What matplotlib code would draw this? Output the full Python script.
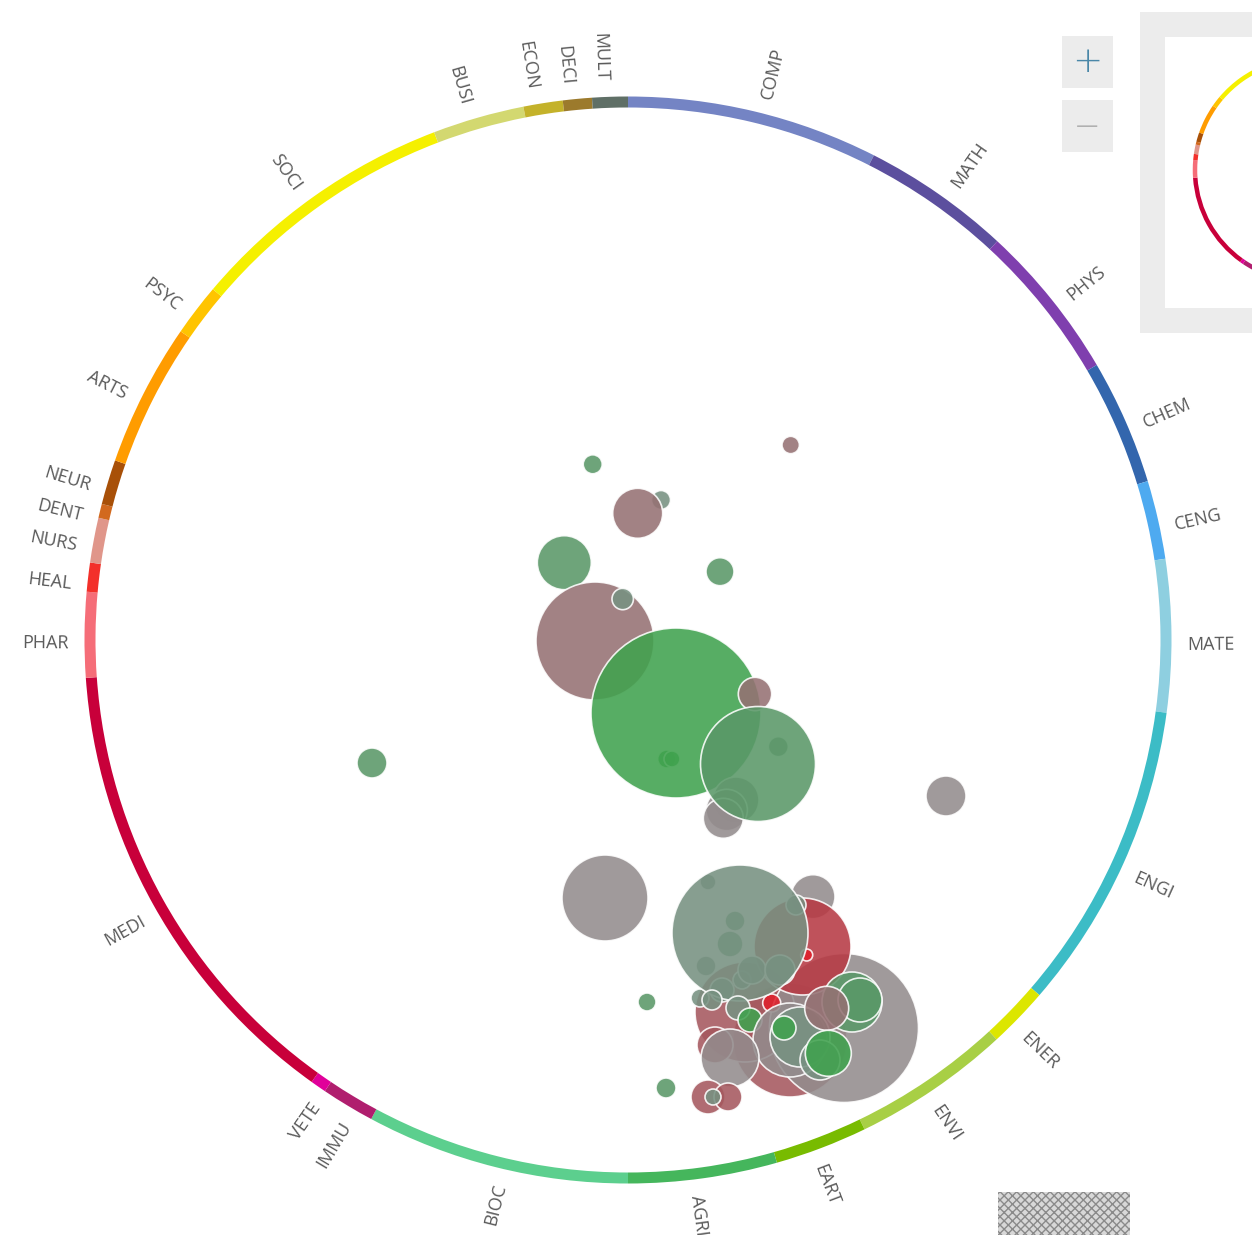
import matplotlib
matplotlib.use('Agg')
import matplotlib.pyplot as plt
from matplotlib.patches import Wedge, Circle, Rectangle
import numpy as np

# subject areas around the ring, clockwise from the top
subjects = ['COMP', 'MATH', 'PHYS', 'CHEM', 'CENG', 'MATE', 'ENGI', 'ENER',
            'ENVI', 'EART', 'AGRI', 'BIOC', 'IMMU', 'VETE', 'MEDI', 'PHAR',
            'HEAL', 'NURS', 'DENT', 'NEUR', 'ARTS', 'PSYC', 'SOCI', 'BUSI',
            'ECON', 'DECI', 'MULT']
# arc length of each subject (degrees)
spans = [26.9, 15.9, 16.8, 13.4, 8.4, 16.3, 33.1, 6.5,
         16.9, 9.9, 15.9, 28.2, 5.7, 1.7, 50.4, 9.1,
         3.1, 4.8, 1.5, 4.8, 15.3, 5.6, 28.9, 9.8,
         4.2, 3.1, 3.8]
subject_colors = ['#7484c4', '#5c4f9e', '#7f3fae', '#3366ad', '#4eaaf0', '#8ecfe0',
                  '#3cbcc6', '#dce600', '#a8cf45', '#78bb00', '#45b65c', '#5ccf8e',
                  '#b01e6e', '#e0009a', '#c8003a', '#f56d78', '#f3302a', '#e0968a',
                  '#d2691e', '#a85008', '#ff9c00', '#ffc400', '#f5f000', '#d3d870',
                  '#c4b22a', '#9c7a2c', '#5f6f66']

# bubbles (position in chart pixels, radius, colour group), back to front
bub_x = [592.7, 790.7, 661, 637.7, 564.3, 720, 595, 622.7,
         666.7, 672, 676, 755, 778.3, 736, 726.7, 723.3, 758,
         372, 946, 605, 647, 666,
         790, 745, 844, 813, 802.5,
         708, 735, 730, 706, 742, 796, 722, 752, 780, 700,
         806.7, 771.7, 740,
         738, 712, 750, 790, 800, 784, 852, 860, 826.7, 820, 828.3,
         715, 730, 708, 728, 713]
bub_y = [464.3, 445, 500, 513.3, 562.7, 571.7, 641, 599,
         759, 759, 713, 694, 746.7, 800, 810, 818.3, 764,
         763, 796, 898, 1002, 1088,
         1040, 1012, 1028, 896.7, 946.5,
         882, 921, 944, 966, 980, 905, 990, 970, 970, 998,
         955, 1003, 933,
         1008, 1000, 1020, 1040, 1037, 1028, 1002, 1000, 1008.3, 1060, 1053.3,
         1045, 1058, 1097, 1097, 1097]
bub_r = [9.5, 8.7, 9.5, 25, 27, 14, 59, 10.7,
         9, 8, 85, 16.7, 10, 23, 20.7, 20, 57.5,
         15, 20, 43, 9, 10,
         57, 50, 74.5, 22, 48.5,
         8, 10, 13, 10, 9, 10, 12, 14, 15, 9,
         6, 9, 68,
         12, 10, 12, 37, 30, 12, 30, 22, 22, 20, 23,
         18, 29, 17, 14, 8]
bub_kind = ['M', 'P', 'T', 'P', 'M', 'M', 'P', 'T',
            'G', 'G', 'G', 'P', 'T', 'Y', 'Y', 'Y', 'M',
            'M', 'Y', 'Y', 'M', 'M',
            'RM', 'RM', 'Y', 'Y', 'R',
            'T', 'M', 'M', 'T', 'T', 'T', 'T', 'T', 'T', 'T',
            'B', 'B', 'T',
            'T', 'T', 'G', 'Y', 'T', 'G', 'M', 'M', 'P', 'T', 'G',
            'RM', 'Y', 'RM', 'RM', 'T']
kind_colors = {'G': '#40a24e', 'M': '#5a9868', 'P': '#957173', 'Y': '#938c8d',
               'T': '#779181', 'R': '#b73a44', 'RM': '#a5585e', 'B': '#e0202c'}

cx, cy, ring_r = 628, 640, 538

fig = plt.figure(figsize=(12.52, 12.35), dpi=100)
ax = fig.add_axes([0, 0, 1, 1])
ax.set_xlim(0, 1252)
ax.set_ylim(1235, 0)
ax.axis('off')


def draw_ring(x0, y0, r, w, labels):
    start = 0.0
    for name, span, col in zip(subjects, spans, subject_colors):
        # bearing (clockwise from top) -> matplotlib angle with y pointing down
        ax.add_patch(Wedge((x0, y0), r + w / 2, start - 90, start + span - 90,
                           width=w, facecolor=col, edgecolor='none'))
        if labels:
            mid = start + span / 2
            b = np.radians(mid)
            tx = x0 + 559 * np.sin(b)
            ty = y0 - 559 * np.cos(b)
            if mid <= 180:
                ax.text(tx, ty, name, rotation=90 - mid, rotation_mode='anchor',
                        ha='left', va='top', fontsize=13, color='#5a5a5a',
                        family='Open Sans')
            else:
                ax.text(tx, ty, name, rotation=270 - mid, rotation_mode='anchor',
                        ha='right', va='top', fontsize=13, color='#5a5a5a',
                        family='Open Sans')
        start += span


draw_ring(cx, cy, ring_r, 11, True)

for x, y, r, k in zip(bub_x, bub_y, bub_r, bub_kind):
    ax.add_patch(Circle((x, y), r, facecolor=kind_colors[k], alpha=0.88,
                        edgecolor='white', linewidth=1.2))

# zoom buttons
ax.add_patch(Rectangle((1062, 36), 51, 52, facecolor='#ececec', edgecolor='none'))
ax.add_patch(Rectangle((1062, 100), 51, 52, facecolor='#ececec', edgecolor='none'))
ax.text(1087.5, 62, '+', ha='center', va='center', fontsize=26, color='#4a87a8',
        family='DejaVu Sans', fontweight='light')
ax.text(1087.5, 126, '\u2014', ha='center', va='center', fontsize=16, color='#b0b0b0',
        family='DejaVu Sans')

# overview panel
ax.add_patch(Rectangle((1140, 12), 130, 321, facecolor='#ececec', edgecolor='none'))
ax.add_patch(Rectangle((1165, 37), 110, 271, facecolor='white', edgecolor='none'))
draw_ring(1306, 170, 111, 4.5, False)

# obscured mark, bottom right
ax.add_patch(Rectangle((998, 1192), 132, 43, facecolor='#d8d8d8', edgecolor='#8a8a8a',
                       hatch='xxxx', linewidth=0))

fig.savefig('out.png', dpi=100)
